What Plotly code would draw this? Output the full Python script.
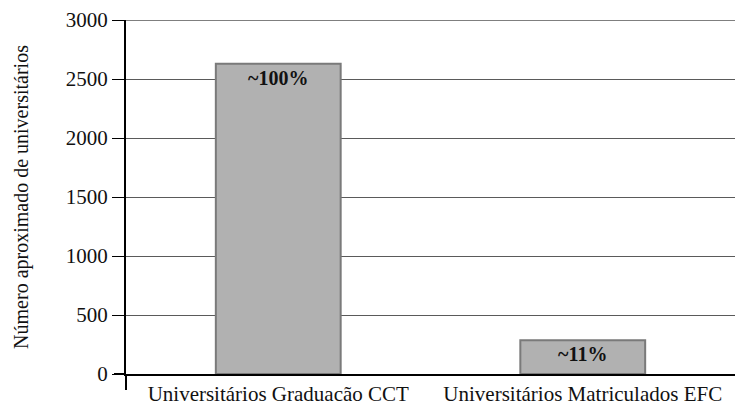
import plotly.graph_objects as go

categories = ["Universitários Graduacão CCT", "Universitários Matriculados EFC"]
values = [2630, 285]
labels = ["~100%", "~11%"]
y_ticks = [0, 500, 1000, 1500, 2000, 2500, 3000]

FONT = "Liberation Serif"
W, H = 735, 405
L, R, T, B = 126, 0, 20, 31
PW, PH = W - L - R, H - T - B

fig = go.Figure()
fig.add_trace(go.Bar(
    x=categories, y=values, text=labels,
    textposition="inside", insidetextanchor="end",
    textfont=dict(family=FONT, size=20, color="#111"),
    texttemplate="<b>%{text}</b>",
    marker=dict(color="#b1b1b1", line=dict(color="#7a7a7a", width=2)),
    width=0.41,
))

fig.update_layout(
    width=W, height=H,
    margin=dict(l=L, r=R, t=T, b=B),
    plot_bgcolor="white", paper_bgcolor="white",
    showlegend=False,
    font=dict(family=FONT, size=21, color="#111"),
    uniformtext=dict(minsize=10, mode="show"),
)
fig.update_yaxes(
    range=[0, 3000], tickvals=y_ticks,
    showgrid=True, gridcolor="#5a5a5a", gridwidth=1,
    showline=True, linecolor="black", linewidth=2,
    ticks="outside", ticklen=12, tickcolor="black", tickwidth=1,
    zeroline=False, automargin=False,
    title=dict(text="Número aproximado de universitários", font=dict(size=20), standoff=32),
    tickfont=dict(size=21),
)
fig.update_xaxes(
    showline=True, linecolor="black", linewidth=2,
    ticks="", tickfont=dict(size=21), automargin=False,
)
# top gridline black, axis extensions
fig.add_shape(type="line", xref="paper", yref="y", x0=0, x1=1, y0=3000, y1=3000,
              line=dict(color="black", width=1))
fig.add_shape(type="line", xref="paper", yref="paper", x0=-12 / PW, x1=0, y0=0, y1=0,
              line=dict(color="black", width=2))
fig.add_shape(type="line", xref="paper", yref="paper", x0=0, x1=0, y0=-16 / PH, y1=0,
              line=dict(color="black", width=2))

fig.write_html(
    "out.html",
    config={"displayModeBar": False},
    post_script="document.body.style.margin='0';document.body.style.overflow='hidden';",
)
